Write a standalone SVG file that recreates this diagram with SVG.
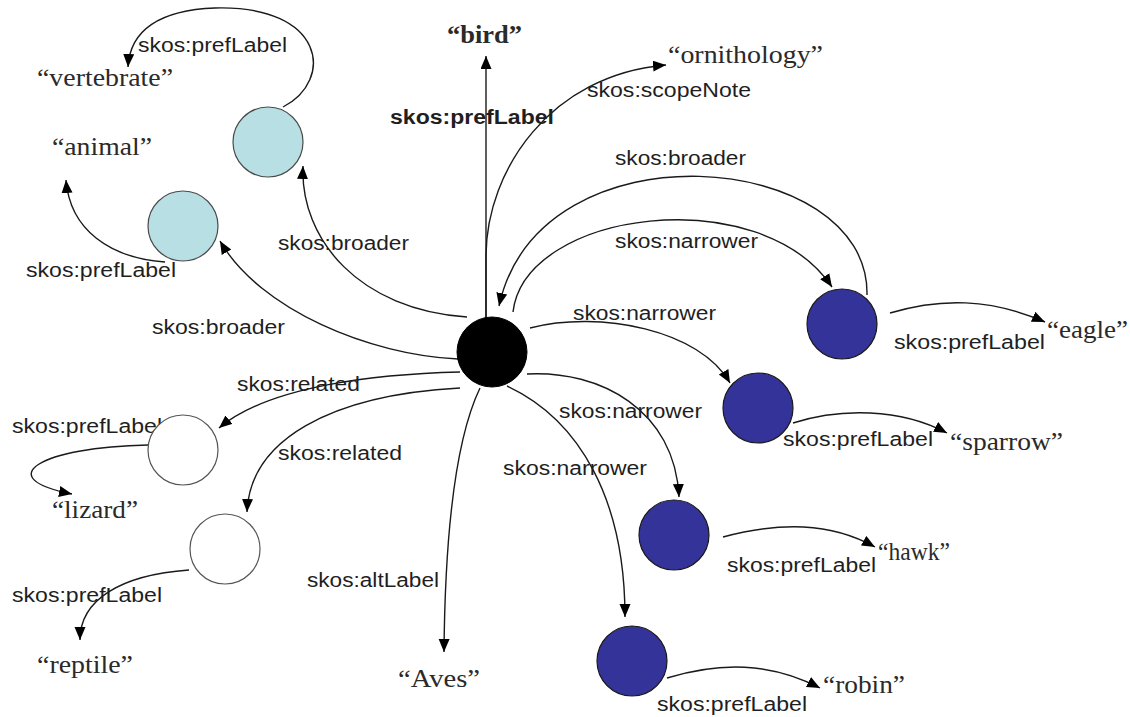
<svg xmlns="http://www.w3.org/2000/svg" width="1130" height="717" viewBox="0 0 1130 717">
<style>
.edge{fill:none;stroke:#1a1a1a;stroke-width:1.4;marker-end:url(#arr)}
.lbl{font-family:"Liberation Sans",Arial,sans-serif;font-size:20px;fill:#1f1f1f}
.lit{font-family:"Liberation Serif","Times New Roman",serif;font-size:26px;fill:#2a2a2a}
.concept{fill:#000;stroke:#000;stroke-width:1}
.broad{fill:#b8dfe3;stroke:#4a4a4a;stroke-width:1.2}
.rel{fill:#fff;stroke:#555;stroke-width:1.2}
.narrow{fill:#333399;stroke:#1a1a1a;stroke-width:1.2}
</style>
<defs>
<marker id="arr" markerUnits="userSpaceOnUse" markerWidth="14" markerHeight="12" refX="13" refY="5.5" orient="auto">
<path d="M0,0 L13,5.5 L0,11 z" fill="#000"/>
</marker>
</defs>
<rect width="1130" height="717" fill="#fff"/>

<g id="connectors">
<path class="edge" d="M486 318 L486 56"/>
<path class="edge" d="M486 318 L486 255 C487 170 550 75 666 65"/>
<path class="edge" d="M867 295 C870 150 540 120 499 306"/>
<path class="edge" d="M513 312 C525 210 760 180 832 287"/>
<path class="edge" d="M467 317 C360 310 300 240 303 166"/>
<path class="edge" d="M458 359 C370 355 260 310 220 241"/>
<path class="edge" d="M283 107 C335 80 325 5 215 8 C160 10 130 30 128 67"/>
<path class="edge" d="M165 262 C110 258 70 230 66 180"/>
<path class="edge" d="M460 372 C380 374 270 385 219 428"/>
<path class="edge" d="M460 388 C330 395 250 440 247 512"/>
<path class="edge" d="M148 445 C40 447 -10 478 72 494"/>
<path class="edge" d="M189 570 C120 575 80 600 80 640"/>
<path class="edge" d="M480 388 C455 440 445 540 444 652"/>
<path class="edge" d="M507 386 C580 420 625 500 625 617"/>
<path class="edge" d="M527 374 C600 370 675 410 679 497"/>
<path class="edge" d="M530 328 C600 310 700 330 730 383"/>
<path class="edge" d="M890 313 C940 298 990 298 1045 322"/>
<path class="edge" d="M793 423 C840 408 900 408 947 433"/>
<path class="edge" d="M723 537 C780 522 830 522 875 547"/>
<path class="edge" d="M667 678 C720 662 770 662 820 688"/>
</g>

<g id="edge-labels">
<text class="lbl" x="138" y="52" textLength="149" lengthAdjust="spacingAndGlyphs">skos:prefLabel</text>
<text class="lbl" x="26" y="277" textLength="150" lengthAdjust="spacingAndGlyphs">skos:prefLabel</text>
<text class="lbl" x="278" y="250" textLength="131" lengthAdjust="spacingAndGlyphs">skos:broader</text>
<text class="lbl" x="152" y="334" textLength="133" lengthAdjust="spacingAndGlyphs">skos:broader</text>
<text class="lbl" x="390" y="124" textLength="164" lengthAdjust="spacingAndGlyphs" font-weight="bold">skos:prefLabel</text>
<text class="lbl" x="587" y="97" textLength="164" lengthAdjust="spacingAndGlyphs">skos:scopeNote</text>
<text class="lbl" x="615" y="165" textLength="131" lengthAdjust="spacingAndGlyphs">skos:broader</text>
<text class="lbl" x="615" y="248" textLength="143" lengthAdjust="spacingAndGlyphs">skos:narrower</text>
<text class="lbl" x="573" y="320" textLength="143" lengthAdjust="spacingAndGlyphs">skos:narrower</text>
<text class="lbl" x="559" y="418" textLength="143" lengthAdjust="spacingAndGlyphs">skos:narrower</text>
<text class="lbl" x="503" y="475" textLength="144" lengthAdjust="spacingAndGlyphs">skos:narrower</text>
<text class="lbl" x="237" y="391" textLength="123" lengthAdjust="spacingAndGlyphs">skos:related</text>
<text class="lbl" x="278" y="460" textLength="124" lengthAdjust="spacingAndGlyphs">skos:related</text>
<text class="lbl" x="12" y="433" textLength="150" lengthAdjust="spacingAndGlyphs">skos:prefLabel</text>
<text class="lbl" x="12" y="602" textLength="150" lengthAdjust="spacingAndGlyphs">skos:prefLabel</text>
<text class="lbl" x="307" y="587" textLength="132" lengthAdjust="spacingAndGlyphs">skos:altLabel</text>
<text class="lbl" x="894" y="349" textLength="151" lengthAdjust="spacingAndGlyphs">skos:prefLabel</text>
<text class="lbl" x="783" y="446" textLength="150" lengthAdjust="spacingAndGlyphs">skos:prefLabel</text>
<text class="lbl" x="727" y="572" textLength="149" lengthAdjust="spacingAndGlyphs">skos:prefLabel</text>
<text class="lbl" x="657" y="711" textLength="150" lengthAdjust="spacingAndGlyphs">skos:prefLabel</text>
</g>

<g id="node-bird"><circle class="concept" cx="492" cy="352" r="35"/></g>
<g id="node-vertebrate-concept"><circle class="broad" cx="268" cy="142" r="35"/></g>
<g id="node-animal-concept"><circle class="broad" cx="183" cy="226" r="35"/></g>
<g id="node-lizard-concept"><circle class="rel" cx="183" cy="450" r="35"/></g>
<g id="node-reptile-concept"><circle class="rel" cx="225" cy="549" r="35"/></g>
<g id="node-eagle-concept"><circle class="narrow" cx="842" cy="324" r="35"/></g>
<g id="node-sparrow-concept"><circle class="narrow" cx="758" cy="408" r="35"/></g>
<g id="node-hawk-concept"><circle class="narrow" cx="674" cy="535" r="35"/></g>
<g id="node-robin-concept"><circle class="narrow" cx="632" cy="661" r="35"/></g>

<g id="lit-bird"><text class="lit" x="447" y="43" textLength="75" lengthAdjust="spacingAndGlyphs" font-weight="bold" fill="#111">“bird”</text></g>
<g id="lit-vertebrate"><text class="lit" x="37" y="86" textLength="136" lengthAdjust="spacingAndGlyphs">“vertebrate”</text></g>
<g id="lit-animal"><text class="lit" x="52" y="155" textLength="100" lengthAdjust="spacingAndGlyphs">“animal”</text></g>
<g id="lit-ornithology"><text class="lit" x="668" y="63" textLength="155" lengthAdjust="spacingAndGlyphs">“ornithology”</text></g>
<g id="lit-eagle"><text class="lit" x="1047" y="338" textLength="81" lengthAdjust="spacingAndGlyphs">“eagle”</text></g>
<g id="lit-sparrow"><text class="lit" x="950" y="450" textLength="113" lengthAdjust="spacingAndGlyphs">“sparrow”</text></g>
<g id="lit-hawk"><text class="lit" x="878" y="560" textLength="72" lengthAdjust="spacingAndGlyphs">“hawk”</text></g>
<g id="lit-robin"><text class="lit" x="823" y="693" textLength="82" lengthAdjust="spacingAndGlyphs">“robin”</text></g>
<g id="lit-aves"><text class="lit" x="398" y="687" textLength="82" lengthAdjust="spacingAndGlyphs">“Aves”</text></g>
<g id="lit-reptile"><text class="lit" x="37" y="673" textLength="96" lengthAdjust="spacingAndGlyphs">“reptile”</text></g>
<g id="lit-lizard"><text class="lit" x="52" y="518" textLength="86" lengthAdjust="spacingAndGlyphs">“lizard”</text></g>
</svg>
